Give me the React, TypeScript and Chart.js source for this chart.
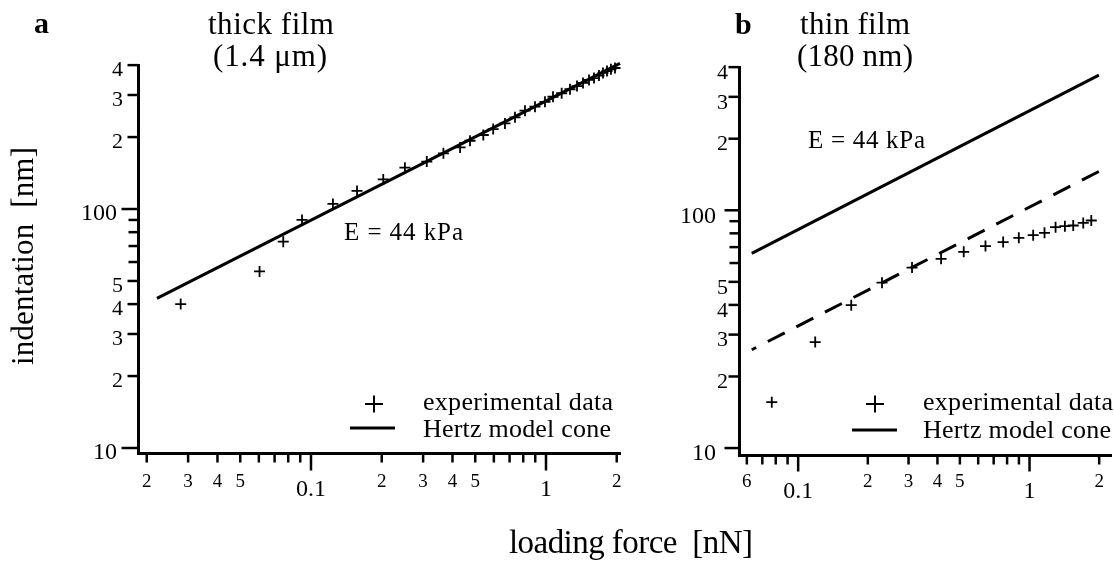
import React, { useEffect, useRef } from 'react';
import { Chart, registerables } from 'chart.js';

Chart.register(...registerables);

const SERIF = "'Liberation Serif', 'Times New Roman', Times, serif";

// ---------- Panel a: thick film (1.4 µm) ----------
const forceA = [0.0279, 0.0604, 0.0762, 0.0916, 0.124, 0.157, 0.203, 0.251, 0.311, 0.366, 0.431, 0.475, 0.541, 0.596, 0.669, 0.738, 0.814, 0.898, 0.99, 1.071, 1.166, 1.265, 1.355, 1.437, 1.524, 1.601, 1.681, 1.748, 1.818, 1.89, 1.966];
const indentA = [40.0, 54.8, 73.0, 90.0, 105, 119, 133, 149, 158, 171, 181, 193, 204, 216, 228, 242, 258, 268, 281, 295, 305, 317, 327, 337, 347, 353, 362, 371, 378, 384, 389];
const hertzForceA = [0.0221, 2.065];
const hertzIndentA = [42.3, 407];

// ---------- Panel b: thin film (180 nm) ----------
const forceB = [0.0769, 0.1185, 0.1696, 0.2303, 0.3106, 0.4147, 0.5196, 0.6451, 0.7691, 0.8989, 1.037, 1.161, 1.296, 1.422, 1.545, 1.707, 1.849];
const indentB = [15.6, 27.9, 39.9, 49.6, 57.4, 62.5, 66.9, 70.7, 73.5, 76.6, 78.6, 80.4, 84.9, 85.7, 86.3, 88.5, 90.6];
const hertzForceB = [0.063, 1.995];
const hertzSolidB = [65.9, 370];
const hertzDashedB = [25.9, 145.6];

// ---------- Axis ticks ----------
const xTicksA = [0.02, 0.03, 0.04, 0.05, 0.06, 0.07, 0.08, 0.09, 0.1, 0.2, 0.3, 0.4, 0.5, 0.6, 0.7, 0.8, 0.9, 1, 2];
const xLabelsA = ['2', '3', '4', '5', '', '', '', '', '0.1', '2', '3', '4', '5', '', '', '', '', '1', '2'];
const xTicksB = [0.06, 0.07, 0.08, 0.09, 0.1, 0.2, 0.3, 0.4, 0.5, 0.6, 0.7, 0.8, 0.9, 1, 2];
const xLabelsB = ['6', '', '', '', '0.1', '2', '3', '4', '5', '', '', '', '', '1', '2'];
const yTicks = [10, 20, 30, 40, 50, 60, 70, 80, 90, 100, 200, 300, 400];
const yLabels = ['10', '2', '3', '4', '5', '', '', '', '', '100', '2', '3', '4'];
const decadeLabels = ['0.1', '1', '10', '100'];

const pts = (xs: number[], ys: number[]) => xs.map((x, i) => ({ x, y: ys[i] }));

function drawFitted(ctx: any, text: string, x: number, y: number, width: number, align: 'left' | 'center') {
  ctx.save();
  ctx.textAlign = 'left';
  ctx.textBaseline = 'alphabetic';
  if (typeof ctx.letterSpacing === 'string') ctx.letterSpacing = '0px';
  const w0 = ctx.measureText(text).width;
  const n = Array.from(text).length;
  const left = align === 'center' ? x - width / 2 : x;
  if (typeof ctx.letterSpacing === 'string' && n > 1) {
    ctx.letterSpacing = ((width - w0) / (n - 1)).toFixed(2) + 'px';
    ctx.fillText(text, left, y);
  } else {
    ctx.translate(left, y);
    ctx.scale(width / w0, 1);
    ctx.fillText(text, 0, 0);
  }
  ctx.restore();
}

type TextItem = { text: string; size: number; bold?: boolean; x: number; y: number; w?: number; align?: 'left' | 'center'; rotate?: boolean };
type LegendSpec = { crossX: number; crossY: number; lineX1: number; lineX2: number; lineY: number };

function makePlugin(id: string, xLabels: string[], tickLen: { xMinor: number; xDec: number; yMinor: number; yLab: number; yDec: number }, texts: TextItem[], legend: LegendSpec) {
  return {
    id,
    afterDraw(chart: any) {
      const ctx = chart.ctx;
      const area = chart.chartArea;
      const xs = chart.scales.x;
      const ys = chart.scales.y;
      ctx.save();
      ctx.strokeStyle = '#000';
      ctx.lineWidth = 2.5;
      ctx.lineCap = 'butt';
      // x tick marks
      xs.ticks.forEach((t: any, i: number) => {
        const px = xs.getPixelForValue(t.value);
        const lab = xLabels[i];
        const len = decadeLabels.includes(lab) ? tickLen.xDec : tickLen.xMinor;
        ctx.beginPath();
        ctx.moveTo(px, area.bottom);
        ctx.lineTo(px, area.bottom + 1.5 + len);
        ctx.stroke();
      });
      // y tick marks
      ys.ticks.forEach((t: any, i: number) => {
        const py = ys.getPixelForValue(t.value);
        const lab = yLabels[i];
        const len = decadeLabels.includes(lab) ? tickLen.yDec : lab ? tickLen.yLab : tickLen.yMinor;
        ctx.beginPath();
        ctx.moveTo(area.left, py);
        ctx.lineTo(area.left - 1.5 - len, py);
        ctx.stroke();
      });
      // legend symbols
      ctx.lineWidth = 2;
      ctx.beginPath();
      ctx.moveTo(legend.crossX - 9, legend.crossY);
      ctx.lineTo(legend.crossX + 9, legend.crossY);
      ctx.moveTo(legend.crossX, legend.crossY - 8.5);
      ctx.lineTo(legend.crossX, legend.crossY + 8.5);
      ctx.stroke();
      ctx.lineWidth = 3;
      ctx.beginPath();
      ctx.moveTo(legend.lineX1, legend.lineY);
      ctx.lineTo(legend.lineX2, legend.lineY);
      ctx.stroke();
      // texts
      ctx.fillStyle = '#000';
      texts.forEach((t) => {
        ctx.font = `${t.bold ? 'bold ' : ''}${t.size}px ${SERIF}`;
        if (t.rotate) {
          ctx.save();
          ctx.translate(t.x, t.y);
          ctx.rotate(-Math.PI / 2);
          drawFitted(ctx, t.text, 0, 0, t.w as number, 'center');
          ctx.restore();
        } else if (t.w) {
          drawFitted(ctx, t.text, t.x, t.y, t.w, t.align || 'left');
        } else {
          ctx.textAlign = 'left';
          ctx.textBaseline = 'alphabetic';
          ctx.fillText(t.text, t.x, t.y);
        }
      });
      ctx.restore();
    },
  };
}

function buildConfig(p: {
  datasets: any[];
  xMin: number; xMax: number; xTicks: number[]; xLabels: string[];
  padding: any; yWidth: number; xHeight: number;
  xDigitLH: number; xDecLH: number; yPad: number; yLabelOffset: number; decSpace: string;
  plugin: any;
}) {
  return {
    type: 'scatter',
    data: { datasets: p.datasets },
    options: {
      responsive: false,
      animation: false,
      events: [],
      layout: { padding: p.padding, autoPadding: false },
      plugins: { legend: { display: false }, tooltip: { enabled: false }, title: { display: false } },
      scales: {
        x: {
          type: 'logarithmic',
          position: 'bottom',
          min: p.xMin,
          max: p.xMax,
          afterBuildTicks: (s: any) => { s.ticks = p.xTicks.map((v) => ({ value: v })); },
          afterFit: (s: any) => { s.height = p.xHeight; },
          grid: { display: false, drawTicks: false },
          border: { display: true, color: '#000', width: 3 },
          ticks: {
            autoSkip: false,
            maxRotation: 0,
            minRotation: 0,
            padding: 2,
            color: '#000',
            callback: (_v: any, i: number) => p.xLabels[i],
            font: (c: any) => {
              const dec = decadeLabels.includes(p.xLabels[c.index]);
              return { family: SERIF, size: dec ? 24 : 19, lineHeight: (dec ? p.xDecLH : p.xDigitLH) + 'px' };
            },
          },
        },
        y: {
          type: 'logarithmic',
          position: 'left',
          min: 0,
          max: 400.5,
          afterBuildTicks: (s: any) => { s.ticks = yTicks.map((v) => ({ value: v })); },
          afterFit: (s: any) => { s.width = p.yWidth; },
          grid: { display: false, drawTicks: false },
          border: { display: true, color: '#000', width: 3 },
          ticks: {
            autoSkip: false,
            padding: p.yPad,
            labelOffset: p.yLabelOffset,
            color: '#000',
            callback: (_v: any, i: number) => (decadeLabels.includes(yLabels[i]) ? yLabels[i] + p.decSpace : yLabels[i]),
            font: (c: any) => {
              const dec = decadeLabels.includes(yLabels[c.index]);
              return { family: SERIF, size: dec ? 24 : 22 };
            },
          },
        },
      },
    },
    plugins: [p.plugin],
  } as any;
}

export default function App() {
  const refA = useRef<HTMLCanvasElement | null>(null);
  const refB = useRef<HTMLCanvasElement | null>(null);

  useEffect(() => {
    if (!refA.current || !refB.current) return;

    const textsA: TextItem[] = [
      { text: 'a', size: 30, bold: true, x: 34, y: 33 },
      { text: 'thick film', size: 31, x: 271, y: 34, w: 126, align: 'center' },
      { text: '(1.4 μm)', size: 31, x: 270, y: 66, w: 114, align: 'center' },
      { text: 'E = 44 kPa', size: 25, x: 344, y: 240, w: 119 },
      { text: 'experimental data', size: 26, x: 423, y: 410, w: 190 },
      { text: 'Hertz model cone', size: 26, x: 423, y: 437, w: 188 },
      { text: 'indentation  [nm]', size: 31, x: 33, y: 256, w: 218, rotate: true },
      { text: 'loading force  [nN]', size: 33, x: 631, y: 553, w: 244, align: 'center' },
    ];
    const textsB: TextItem[] = [
      { text: 'b', size: 30, bold: true, x: 735, y: 34 },
      { text: 'thin film', size: 31, x: 855, y: 34, w: 110, align: 'center' },
      { text: '(180 nm)', size: 31, x: 855, y: 66, w: 116, align: 'center' },
      { text: 'E = 44 kPa', size: 25, x: 808, y: 148, w: 117 },
      { text: 'experimental data', size: 26, x: 923, y: 410, w: 190 },
      { text: 'Hertz model cone', size: 26, x: 923, y: 438, w: 188 },
    ];

    const pluginA = makePlugin('panelA', xLabelsA, { xMinor: 8, xDec: 16, yMinor: 8, yLab: 9, yDec: 15 }, textsA,
      { crossX: 374, crossY: 404, lineX1: 350, lineX2: 395, lineY: 428 });
    const pluginB = makePlugin('panelB', xLabelsB, { xMinor: 8, xDec: 15, yMinor: 8, yLab: 9, yDec: 13 }, textsB,
      { crossX: 875, crossY: 404, lineX1: 852, lineX2: 897, lineY: 430 });

    const crossStyle = { showLine: false, pointStyle: 'cross', pointRadius: 5.5, pointBorderWidth: 1.8, borderColor: '#000', backgroundColor: '#000', clip: false };

    const cfgA = buildConfig({
      datasets: [
        { label: 'Hertz model cone', data: pts(hertzForceA, hertzIndentA), showLine: true, borderColor: '#000', borderWidth: 3, pointRadius: 0, clip: false },
        { label: 'experimental data', data: pts(forceA, indentA), ...crossStyle },
      ],
      xMin: 0.01836, xMax: 2.065, xTicks: xTicksA, xLabels: xLabelsA,
      padding: { left: 0, top: 65, right: 494, bottom: 0 }, yWidth: 138, xHeight: 110,
      xDigitLH: 55, xDecLH: 70, yPad: 15, yLabelOffset: 5, decSpace: ' ',
      plugin: pluginA,
    });
    cfgA.options.scales.y.min = 9.53;

    const cfgB = buildConfig({
      datasets: [
        { label: 'Hertz model cone', data: pts(hertzForceB, hertzSolidB), showLine: true, borderColor: '#000', borderWidth: 3, pointRadius: 0, clip: false },
        { label: 'Hertz model cone (dashed)', data: pts(hertzForceB, hertzDashedB), showLine: true, borderColor: '#000', borderWidth: 3, borderDash: [19, 13.1], borderDashOffset: 14, pointRadius: 0, clip: false },
        { label: 'experimental data', data: pts(forceB, indentB), ...crossStyle },
      ],
      xMin: 0.0555, xMax: 2.25, xTicks: xTicksB, xLabels: xLabelsB,
      padding: { left: 600, top: 67, right: 3, bottom: 0 }, yWidth: 139, xHeight: 108,
      xDigitLH: 51, xDecLH: 69, yPad: 11, yLabelOffset: 6, decSpace: '\u2002',
      plugin: pluginB,
    });
    cfgB.options.scales.y.min = 9.35;

    const chartA = new Chart(refA.current, cfgA);
    const chartB = new Chart(refB.current, cfgB);
    return () => {
      chartA.destroy();
      chartB.destroy();
    };
  }, []);

  const canvasStyle: React.CSSProperties = { position: 'absolute', left: 0, top: 0, width: 1114, height: 563 };
  return (
    <div style={{ position: 'absolute', left: 0, top: 0, width: 1114, height: 563, background: '#fff', overflow: 'hidden' }}>
      <canvas ref={refA} width={1114} height={563} style={canvasStyle} />
      <canvas ref={refB} width={1114} height={563} style={canvasStyle} />
    </div>
  );
}
